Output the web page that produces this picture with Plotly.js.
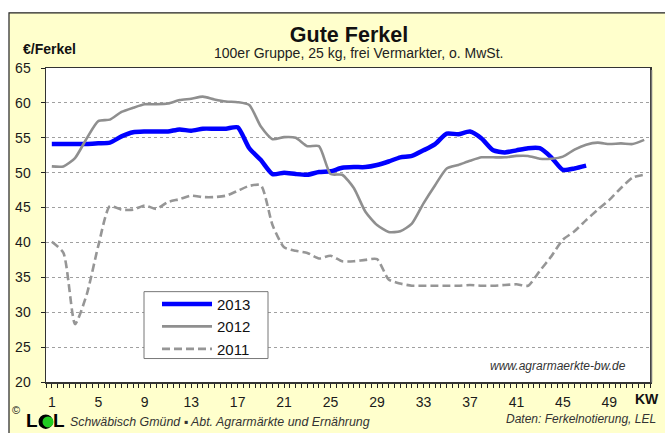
<!DOCTYPE html>
<html>
<head>
<meta charset="utf-8">
<script src="https://cdn.plot.ly/plotly-3.0.1.min.js"></script>
<style>
html,body{margin:0;padding:0;background:#ffffff;}
#chart{width:665px;height:433px;}
</style>
</head>
<body>
<div id="chart"></div>
<script>
// ---- data ----
const weeks2013 = [1,2,3,4,5,6,7,8,9,10,11,12,13,14,15,16,17,18,19,20,21,22,23,24,25,26,27,28,29,30,31,32,33,34,35,36,37,38,39,40,41,42,43,44,45,46,47];
const values2013 = [54.1,54.1,54.1,54.1,54.2,54.3,55.2,55.8,55.9,55.9,55.9,56.2,56.0,56.3,56.3,56.3,56.5,53.5,51.8,49.8,50.0,49.8,49.7,50.1,50.2,50.7,50.8,50.8,51.1,51.6,52.2,52.4,53.2,54.1,55.6,55.5,55.9,54.9,53.2,52.9,53.2,53.5,53.5,52.2,50.4,50.6,51.0];

const weeks = [1,2,3,4,5,6,7,8,9,10,11,12,13,14,15,16,17,18,19,20,21,22,23,24,25,26,27,28,29,30,31,32,33,34,35,36,37,38,39,40,41,42,43,44,45,46,47,48,49,50,51,52];
const values2012 = [50.9,50.9,52.1,54.9,57.4,57.6,58.7,59.3,59.8,59.8,59.9,60.4,60.6,60.9,60.5,60.2,60.1,59.7,56.6,54.8,55.1,55.0,53.8,53.8,49.8,49.7,47.8,44.4,42.5,41.5,41.6,42.7,45.6,48.2,50.6,51.1,51.7,52.2,52.2,52.2,52.4,52.4,52.0,52.0,52.3,53.3,54.0,54.3,54.1,54.2,54.1,54.7];
const values2011 = [40.1,38.5,28.3,32.5,39.5,45.2,44.7,44.7,45.3,44.8,45.8,46.2,46.7,46.5,46.5,46.7,47.4,48.1,48.2,42.5,39.3,38.8,38.5,37.7,38.1,37.3,37.3,37.5,37.6,34.7,34.1,33.8,33.8,33.8,33.8,33.8,33.9,33.8,33.8,33.9,34.0,33.8,35.9,38.0,40.4,41.6,43.2,44.7,46.1,47.8,49.3,49.7];

const xTickVals = [1,5,9,13,17,21,25,29,33,37,41,45,49];
const xTickText = ["1","5","9","13","17","21","25","29","33","37","41","45","49"];
const yTickVals = [20,25,30,35,40,45,50,55,60,65];

const FONT = "Liberation Sans, Arial, sans-serif";

const traces = [
  {x: weeks2013, y: values2013, name: "2013", type: "scatter", mode: "lines",
   line: {color: "#0000FF", width: 4.5, shape: "spline", smoothing: 0.6}, legendgroup: "a"},
  {x: weeks, y: values2012, name: "2012", type: "scatter", mode: "lines",
   line: {color: "#8f8f8f", width: 2.6, shape: "spline", smoothing: 0.6}, legendgroup: "b"},
  {x: weeks, y: values2011, name: "2011", type: "scatter", mode: "lines",
   line: {color: "#969696", width: 2.6, dash: "8px,4px", shape: "spline", smoothing: 0.6}, legendgroup: "c"}
];

// pixel -> paper helpers (layout positions only)
const L = 46, R = 650, T = 68, B = 382.5;
const px = v => (v - L) / (R - L);
const py = v => (B - v) / (B - T);

const layout = {
  width: 665, height: 433,
  margin: {l: L, r: 665 - R, t: T, b: 433 - B, pad: 0},
  paper_bgcolor: "#ffffff",
  plot_bgcolor: "rgba(0,0,0,0)",
  font: {family: FONT, size: 14, color: "#1a1a1a"},
  title: {text: "<b>Gute Ferkel</b>", font: {family: FONT, size: 21.5, color: "#111"},
          x: px(349), y: py(25), xanchor: "center", yanchor: "middle", xref: "paper", yref: "paper"},
  showlegend: true,
  legend: {x: px(157), y: py(288), xanchor: "left", yanchor: "top",
           bgcolor: "rgba(0,0,0,0)", borderwidth: 0, font: {family: FONT, size: 15, color: "#111"},
           tracegroupgap: 2, itemwidth: 50, traceorder: "normal"},
  xaxis: {range: [0.5, 52.5], tickmode: "array", tickvals: xTickVals, ticktext: xTickText,
          ticks: "outside", ticklen: 4, tickwidth: 1, tickcolor: "#222",
          showline: true, linecolor: "#333", linewidth: 1.5, mirror: true,
          showgrid: false, zeroline: false, ticklabelstandoff: 3,
          tickfont: {family: FONT, size: 14, color: "#1a1a1a"},
          minor: {tick0: 0.5, dtick: 0.5, ticks: "outside", ticklen: 4, tickcolor: "#222", tickwidth: 1, showgrid: false},
          fixedrange: true},
  yaxis: {range: [20, 65], tickmode: "array", tickvals: yTickVals,
          ticks: "outside", ticklen: 4, tickwidth: 1, tickcolor: "#222",
          showline: true, linecolor: "#333", linewidth: 1.5, mirror: true,
          showgrid: true, gridcolor: "#a0a0a0", gridwidth: 1, griddash: "dot",
          zeroline: false, ticklabelstandoff: 7,
          tickfont: {family: FONT, size: 14, color: "#1a1a1a"}, fixedrange: true},
  shapes: [
    // outer chart frame (yellow)
    {type: "rect", xref: "paper", yref: "paper", x0: px(9), y0: py(12.7), x1: px(700), y1: py(470),
     fillcolor: "#FFFFCC", line: {color: "#222", width: 1.2}, layer: "below"},
    // plot area white
    {type: "rect", xref: "paper", yref: "paper", x0: 0, y0: 0, x1: 1, y1: 1,
     fillcolor: "#ffffff", line: {width: 0}, layer: "below"},
    // right border shadow
    {type: "line", xref: "paper", yref: "paper", x0: px(651.5), y0: py(70), x1: px(651.5), y1: py(383),
     line: {color: "#777", width: 1.5}, layer: "above"},
    // legend box
    {type: "rect", xref: "paper", yref: "paper", x0: px(144), y0: py(292), x1: px(268), y1: py(359),
     fillcolor: "#ffffff", line: {color: "#777", width: 1}, layer: "above"},
    // LEL logo disc
    {type: "circle", xref: "paper", yref: "paper", x0: px(38.5), y0: py(415), x1: px(53), y1: py(429.5),
     fillcolor: "#000", line: {width: 0}, layer: "above"},
    {type: "circle", xref: "paper", yref: "paper", x0: px(42.5), y0: py(417), x1: px(53.5), y1: py(428),
     fillcolor: "#22cc22", line: {width: 0}, layer: "above"}
  ],
  annotations: [
    {text: "100er Gruppe, 25 kg, frei Vermarkter, o. MwSt.", xref: "paper", yref: "paper",
     x: px(358), y: py(53), xanchor: "center", yanchor: "middle", showarrow: false,
     font: {family: FONT, size: 14, color: "#222"}},
    {text: "<b>€/Ferkel</b>", xref: "paper", yref: "paper", x: px(21), y: py(49),
     xanchor: "left", yanchor: "middle", showarrow: false, font: {family: FONT, size: 14, color: "#111"}},
    {text: "<b>KW</b>", xref: "paper", yref: "paper", x: px(647), y: py(400),
     xanchor: "center", yanchor: "middle", showarrow: false, font: {family: FONT, size: 14, color: "#111"}},
    {text: "<i>www.agrarmaerkte-bw.de</i>", xref: "paper", yref: "paper", x: px(628), y: py(366),
     xanchor: "right", yanchor: "middle", showarrow: false, font: {family: FONT, size: 12, color: "#333"}},
    {text: "©", xref: "paper", yref: "paper", x: px(15.5), y: py(411),
     xanchor: "center", yanchor: "middle", showarrow: false, font: {family: FONT, size: 11, color: "#111"}},
    {text: "<b>L</b>", xref: "paper", yref: "paper", x: px(32), y: py(421),
     xanchor: "center", yanchor: "middle", showarrow: false, font: {family: FONT, size: 19, color: "#000"}},
    {text: "<b>L</b>", xref: "paper", yref: "paper", x: px(59), y: py(421),
     xanchor: "center", yanchor: "middle", showarrow: false, font: {family: FONT, size: 19, color: "#000"}},
    {text: "<i>Schwäbisch Gmünd ▪ Abt. Agrarmärkte und Ernährung</i>", xref: "paper", yref: "paper",
     x: px(68), y: py(423), xanchor: "left", yanchor: "middle", showarrow: false,
     font: {family: FONT, size: 12.4, color: "#333"}},
    {text: "<i>Daten: Ferkelnotierung, LEL</i>", xref: "paper", yref: "paper",
     x: px(658), y: py(420), xanchor: "right", yanchor: "middle", showarrow: false,
     font: {family: FONT, size: 12, color: "#333"}}
  ]
};

Plotly.newPlot("chart", traces, layout, {displayModeBar: false, staticPlot: true});
</script>
</body>
</html>
